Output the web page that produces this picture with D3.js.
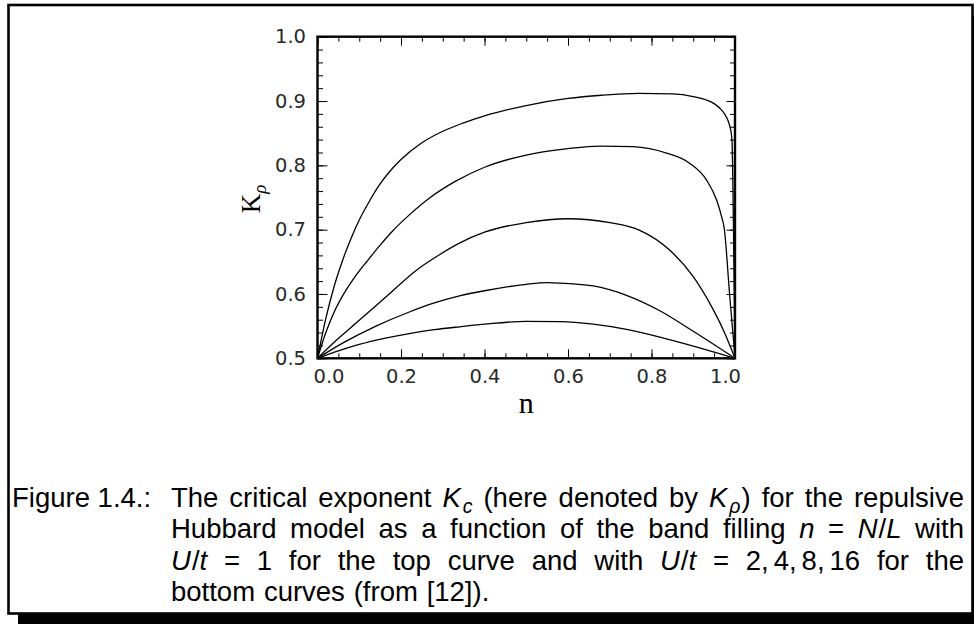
<!DOCTYPE html>
<html>
<head>
<meta charset="utf-8">
<script src="https://cdn.jsdelivr.net/npm/d3@7"></script>
<style>
  html, body { margin: 0; padding: 0; background: #fff; }
  svg { display: block; }
</style>
</head>
<body>
<svg id="fig" width="974" height="624"></svg>
<script>
// Luttinger parameter K_rho versus band filling n for the repulsive Hubbard model
const fillU1 = [0, 0.02, 0.04, 0.06, 0.08, 0.1, 0.125, 0.15, 0.175, 0.2, 0.25, 0.3, 0.35, 0.4, 0.5, 0.6, 0.68, 0.77, 0.85, 0.9, 0.93, 0.95, 0.965, 0.975, 0.983, 0.988, 0.991, 0.993, 0.9945, 0.996, 0.998, 1.0];
const kU1    = [0.5, 0.562, 0.612, 0.652, 0.686, 0.715, 0.745, 0.771, 0.792, 0.809, 0.835, 0.853, 0.866, 0.877, 0.893, 0.904, 0.909, 0.912, 0.911, 0.907, 0.902, 0.896, 0.888, 0.880, 0.870, 0.860, 0.850, 0.835, 0.79, 0.72, 0.61, 0.5];

const fillU2 = [0, 0.02, 0.04, 0.06, 0.09, 0.12, 0.15, 0.18, 0.22, 0.27, 0.33, 0.4, 0.5, 0.6, 0.676, 0.755, 0.836, 0.892, 0.932, 0.956, 0.968, 0.974, 0.987, 1.0];
const kU2    = [0.5, 0.54, 0.572, 0.597, 0.627, 0.652, 0.676, 0.698, 0.723, 0.750, 0.775, 0.797, 0.816, 0.826, 0.830, 0.829, 0.819, 0.803, 0.777, 0.746, 0.720, 0.703, 0.60, 0.5];

const fillU4 = [0, 0.045, 0.1, 0.165, 0.237, 0.292, 0.34, 0.4, 0.5, 0.6, 0.7, 0.772, 0.844, 0.9, 0.94, 0.972, 1.0];
const kU4    = [0.5, 0.528, 0.559, 0.596, 0.637, 0.661, 0.679, 0.696, 0.711, 0.717, 0.711, 0.699, 0.668, 0.627, 0.585, 0.544, 0.5];

const fillU8 = [0, 0.06, 0.14, 0.22, 0.28, 0.34, 0.4, 0.5, 0.55, 0.58, 0.66, 0.74, 0.82, 0.9, 1.0];
const kU8    = [0.5, 0.5235, 0.550, 0.572, 0.586, 0.597, 0.605, 0.615, 0.6175, 0.617, 0.6125, 0.598, 0.574, 0.542, 0.5];

const fillU16 = [0, 0.05, 0.1, 0.16, 0.22, 0.28, 0.34, 0.4, 0.5, 0.58, 0.66, 0.74, 0.82, 0.9, 1.0];
const kU16    = [0.5, 0.5115, 0.5215, 0.531, 0.5385, 0.5445, 0.549, 0.553, 0.5575, 0.557, 0.553, 0.545, 0.533, 0.519, 0.5];

const curves = [
  { U: 1,  n: fillU1,  k: kU1 },
  { U: 2,  n: fillU2,  k: kU2 },
  { U: 4,  n: fillU4,  k: kU4 },
  { U: 8,  n: fillU8,  k: kU8 },
  { U: 16, n: fillU16, k: kU16 }
];

const xTickValues = [0, 0.2, 0.4, 0.6, 0.8, 1.0];
const xTickLabels = ["0.0", "0.2", "0.4", "0.6", "0.8", "1.0"];
const yTickValues = [0.5, 0.6, 0.7, 0.8, 0.9, 1.0];
const yTickLabels = ["0.5", "0.6", "0.7", "0.8", "0.9", "1.0"];

const svg = d3.select("#fig");

// page frame with a drop shadow
svg.append("rect").attr("x", 18).attr("y", 16).attr("width", 980).attr("height", 640).attr("fill", "#000");
svg.append("rect").attr("x", 8.5).attr("y", 5).attr("width", 964).attr("height", 608.5)
  .attr("fill", "#fff").attr("stroke", "#000").attr("stroke-width", 2.6);

// plot scales
const x = d3.scaleLinear().domain([0, 1]).range([317.5, 735]);
const y = d3.scaleLinear().domain([0.5, 1]).range([358.3, 36.7]);

const xMinor = d3.range(0, 21).map(i => i * 0.05);
const yMinor = d3.range(0, 26).map(i => 0.5 + i * 0.02);

const tickFont = "'DejaVu Sans', sans-serif";

function styleAxis(g) {
  g.select(".domain").remove();
  g.selectAll(".tick line").attr("stroke", "#000").attr("stroke-width", 1);
  g.selectAll(".tick text").attr("font-family", tickFont).attr("font-size", 19.5).attr("fill", "#2a2a2a");
}

// bottom axis: minor and major ticks pointing inward, labels below
svg.append("g").attr("transform", `translate(0,${y(0.5)})`)
  .call(d3.axisBottom(x).tickValues(xMinor).tickSize(-5).tickFormat(""))
  .call(styleAxis);
const gBottom = svg.append("g").attr("transform", `translate(0,${y(0.5)})`)
  .call(d3.axisBottom(x).tickValues(xTickValues).tickSize(-9).tickPadding(11)
    .tickFormat((d, i) => xTickLabels[i]))
  .call(styleAxis);
gBottom.selectAll(".tick text")
  .attr("dx", (d, i) => i === 0 ? 11 : (i === xTickValues.length - 1 ? -10 : 0));

// top axis
svg.append("g").attr("transform", `translate(0,${y(1)})`)
  .call(d3.axisTop(x).tickValues(xMinor).tickSize(-5).tickFormat(""))
  .call(styleAxis);
svg.append("g").attr("transform", `translate(0,${y(1)})`)
  .call(d3.axisTop(x).tickValues(xTickValues).tickSize(-9).tickFormat(""))
  .call(styleAxis);

// left axis with labels
svg.append("g").attr("transform", `translate(${x(0)},0)`)
  .call(d3.axisLeft(y).tickValues(yMinor).tickSize(-5.5).tickFormat(""))
  .call(styleAxis);
svg.append("g").attr("transform", `translate(${x(0)},0)`)
  .call(d3.axisLeft(y).tickValues(yTickValues).tickSize(-10).tickPadding(11.5)
    .tickFormat((d, i) => yTickLabels[i]))
  .call(styleAxis);

// right axis
svg.append("g").attr("transform", `translate(${x(1)},0)`)
  .call(d3.axisRight(y).tickValues(yMinor).tickSize(-5).tickFormat(""))
  .call(styleAxis);
svg.append("g").attr("transform", `translate(${x(1)},0)`)
  .call(d3.axisRight(y).tickValues(yTickValues).tickSize(-8.5).tickFormat(""))
  .call(styleAxis);

// K_rho curves
const line = d3.line()
  .x(d => x(d[0]))
  .y(d => y(d[1]))
  .curve(d3.curveMonotoneX);

svg.append("g").selectAll("path")
  .data(curves)
  .join("path")
  .attr("d", c => line(c.n.map((v, i) => [v, c.k[i]])))
  .attr("fill", "none")
  .attr("stroke", "#000")
  .attr("stroke-width", 1.3);

// plot box
svg.append("rect")
  .attr("x", x(0)).attr("y", y(1))
  .attr("width", x(1) - x(0)).attr("height", y(0.5) - y(1))
  .attr("fill", "none").attr("stroke", "#000").attr("stroke-width", 2.4);

// axis titles
const serif = "'Liberation Serif', 'DejaVu Serif', serif";
svg.append("text")
  .attr("x", (x(0) + x(1)) / 2).attr("y", 413)
  .attr("text-anchor", "middle")
  .attr("font-family", serif).attr("font-size", 30)
  .text("n");

const yTitle = svg.append("text")
  .attr("transform", "translate(260,199) rotate(-90)")
  .attr("text-anchor", "middle")
  .attr("font-family", serif).attr("font-size", 27);
yTitle.append("tspan").text("K");
yTitle.append("tspan").attr("font-size", 19).attr("font-style", "italic").attr("dy", 6).text("ρ");

// caption, typeset with justified lines
const capFont = "'Liberation Sans', Arial, sans-serif";
const capSize = 27.5;
const R = (t, pre) => ({ t, pre: pre || 0 });
const I = t => ({ t, it: true, pre: 0 });
const S = t => ({ t, it: true, sub: true, pre: 2 });
const words = s => s.split(" ").map(w => [R(w)]);

const captionLines = [
  { x0: 171, x1: 964, justify: true, words: [
    ...words("The critical exponent"), [I("K"), S("c")],
    ...words("(here denoted by"), [I("K"), S("ρ"), R(")", 1)], ...words("for the repulsive") ] },
  { x0: 171, x1: 964, justify: true, words: [
    ...words("Hubbard model as a function of the band filling"),
    [I("n")], [R("=")], [I("N"), R("/", 1), I("L")], [R("with")] ] },
  { x0: 171, x1: 964, justify: true, words: [
    [I("U"), R("/", 1), I("t")], [R("=")], [R("1")], ...words("for the top curve and with"),
    [I("U"), R("/", 1), I("t")], [R("=")], [R("2,"), R("4,", 5), R("8,", 5), R("16", 5)], ...words("for the") ] },
  { x0: 171, x1: 964, justify: false, words: words("bottom curves (from [12]).") }
];

const capG = svg.append("g").attr("font-family", capFont).attr("fill", "#000");
capG.append("text").attr("x", 12).attr("y", 507).attr("font-size", capSize).text("Figure 1.4.:");

captionLines.forEach((ln, li) => {
  const yb = 507 + li * 31.3;
  const items = ln.words.map(w => {
    const runs = w.map(r => {
      const t = capG.append("text")
        .attr("y", yb + (r.sub ? 6 : 0))
        .attr("font-size", r.sub ? 19.5 : capSize)
        .attr("font-style", r.it ? "italic" : "normal")
        .text(r.t);
      return { sel: t, pre: r.pre, w: t.node().getComputedTextLength() + r.pre };
    });
    return { runs, w: d3.sum(runs, d => d.w) };
  });
  const total = d3.sum(items, d => d.w);
  const gap = ln.justify ? (ln.x1 - ln.x0 - total) / (items.length - 1) : 8.8;
  let cx = ln.x0;
  items.forEach(it => {
    it.runs.forEach(r => {
      r.sel.attr("x", cx + r.pre);
      cx += r.w;
    });
    cx += gap;
  });
});
</script>
</body>
</html>
